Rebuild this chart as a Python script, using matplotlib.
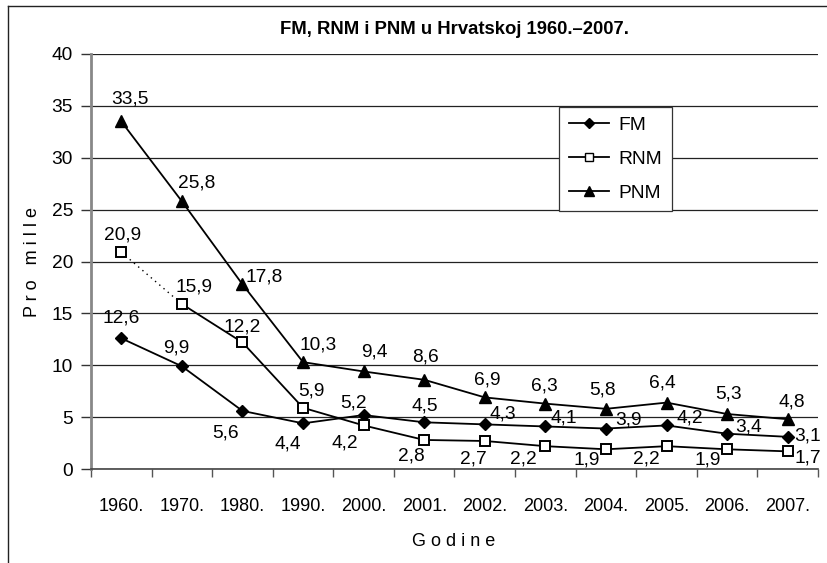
import numpy as np
import matplotlib
matplotlib.use("Agg")
import matplotlib.pyplot as plt
from matplotlib.lines import Line2D

plt.rcParams['font.family'] = ['Liberation Sans', 'DejaVu Sans']

years = ["1960.", "1970.", "1980.", "1990.", "2000.", "2001.", "2002.",
         "2003.", "2004.", "2005.", "2006.", "2007."]
fm = [12.6, 9.9, 5.6, 4.4, 5.2, 4.5, 4.3, 4.1, 3.9, 4.2, 3.4, 3.1]
rnm = [20.9, 15.9, 12.2, 5.9, 4.2, 2.8, 2.7, 2.2, 1.9, 2.2, 1.9, 1.7]
pnm = [33.5, 25.8, 17.8, 10.3, 9.4, 8.6, 6.9, 6.3, 5.8, 6.4, 5.3, 4.8]

# label offsets in pixels (dx, dy), dy positive = up
fm_off = [(0, 20), (-6, 18), (-17, -22), (-15, -21), (-10, 12), (1, 16),
          (18, 10), (18, 8), (23, 9), (23, 7), (21, 7), (20, 1)]
rnm_off = [(1, 17), (12, 17), (0, 15), (8, 17), (-19, -18), (-13, -16),
           (-11, -18), (-22, -13), (-19, -11), (-20, -13), (-19, -11), (20, -7)]
pnm_off = [(9, 22), (15, 18), (22, 7), (15, 17), (11, 19), (1, 23),
           (2, 17), (-1, 18), (-3, 19), (-4, 20), (1, 20), (4, 17)]

fs = 13
fs_lab = 13.8

fig = plt.figure(figsize=(8.28, 5.63), dpi=100)
ax = fig.add_axes([91/828, 94/563, 727/828, 415/563])

x = np.arange(len(years))
lw = 1.3

ax.plot(x, fm, color='black', lw=lw, marker='D', ms=6.5, mfc='black', mec='black', zorder=3)
ax.plot(x[:2], rnm[:2], color='black', lw=1.0, ls=(0, (1, 3)), zorder=3)
ax.plot(x[1:], rnm[1:], color='black', lw=lw, zorder=3)
ax.plot(x, rnm, ls='none', marker='s', ms=7, mfc='white', mec='black', mew=1.4, zorder=4)
ax.plot(x, pnm, color='black', lw=lw, marker='^', ms=9, mfc='black', mec='black', zorder=3)

def fmt(v):
    return f"{v:.1f}".replace('.', ',')

for vals, offs in ((fm, fm_off), (rnm, rnm_off), (pnm, pnm_off)):
    for i, (v, (dx, dy)) in enumerate(zip(vals, offs)):
        ax.annotate(fmt(v), (x[i], v), xytext=(dx, dy), textcoords='offset pixels',
                    ha='center', va='center', fontsize=fs_lab, zorder=5)

ax.set_xlim(-0.5, len(years) - 0.5)
ax.set_ylim(0, 40)
ax.set_yticks(np.arange(0, 41, 5))
ax.set_xticks(x)
ax.set_xticklabels(years, fontsize=fs)
ax.set_xticks(np.arange(-0.5, len(years), 1), minor=True)
ax.tick_params(axis='x', which='major', length=0, pad=21)
ax.tick_params(axis='x', which='minor', length=6, width=1, color='#555555', direction='out')
ax.tick_params(axis='y', length=7, width=1, color='#333333', labelsize=fs_lab, pad=6)
ax.grid(axis='y', color='#222222', lw=0.9)
ax.set_axisbelow(True)

for s in ('top', 'right'):
    ax.spines[s].set_visible(False)
ax.spines['left'].set_color('#888888')
ax.spines['left'].set_linewidth(2)
ax.spines['bottom'].set_color('#444444')
ax.spines['bottom'].set_linewidth(1.2)

handles = [
    Line2D([], [], color='black', lw=lw, marker='D', ms=5.5, mfc='black'),
    Line2D([], [], color='black', lw=lw, marker='s', ms=5.5, mfc='white', mec='black'),
    Line2D([], [], color='black', lw=lw, marker='^', ms=7.5, mfc='black'),
]
leg = ax.legend(handles, ['FM', 'RNM', 'PNM'], loc='upper left',
                bbox_to_anchor=(0.644, 0.872), borderaxespad=0, fontsize=fs_lab,
                frameon=True, fancybox=False, edgecolor='#333333', framealpha=1,
                handlelength=2.1, handletextpad=0.5, borderpad=0.5,
                labelspacing=0.85)
leg.get_frame().set_linewidth(0.9)

fig.text(454/828, 1 - 30/563, "FM, RNM i PNM u Hrvatskoj 1960.–2007.",
         ha='center', va='center', fontsize=13.3, fontweight='bold')
fig.text(454/828, 1 - 541/563, "G o d i n e", ha='center', va='center', fontsize=fs)
fig.text(33/828, 1 - 262/563, "P r o   m i l l e", ha='center', va='center',
         rotation=90, fontsize=fs)

# outer frame (top and left visible)
fig.add_artist(Line2D([8/828, 1], [1 - 6/563, 1 - 6/563], color='#222222', lw=1.0,
                      transform=fig.transFigure))
fig.add_artist(Line2D([8/828, 8/828], [0, 1 - 6/563], color='#222222', lw=1.0,
                      transform=fig.transFigure))

fig.savefig("out.png", dpi=100)
